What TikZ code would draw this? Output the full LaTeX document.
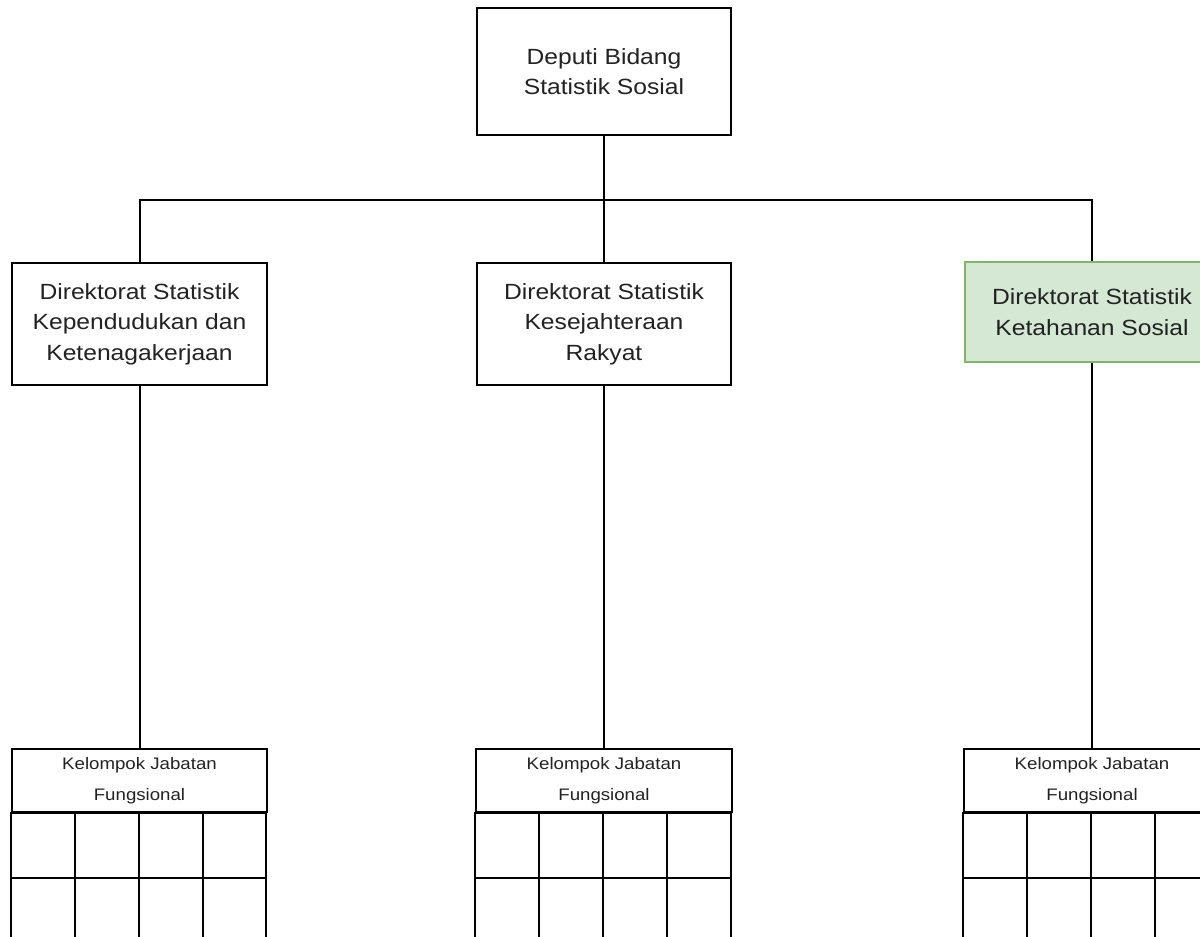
\documentclass[tikz,border=0pt]{standalone}
\usepackage{fontspec}
\newfontfamily\orgfont[FakeStretch=1.12]{Liberation Sans}
\usetikzlibrary{positioning}
\definecolor{hijau}{HTML}{D5E8D4}
\definecolor{hijaugaris}{HTML}{82B366}
\definecolor{teks}{HTML}{222222}

\begin{document}
\begin{tikzpicture}[x=0.75pt,y=-0.75pt,line width=1.5pt,
  kotak/.style={draw,align=center,minimum width=191pt,minimum height=91.5pt,
    inner sep=0pt,text=teks,font=\orgfont\fontsize{16.5}{23}\selectfont},
  hijaukotak/.style={kotak,fill=hijau,draw=hijaugaris,minimum height=75pt},
  kepala/.style={draw,align=center,minimum width=191.5pt,minimum height=47.25pt,
    inner sep=0pt,text=teks,font=\orgfont\fontsize{12.5}{23}\selectfont}]

\clip (0,0) rectangle (1200,937);

\node[kotak, minimum height=95.25pt] (D_0) at (604,71.5) {Deputi Bidang\\Statistik Sosial};
\node[kotak] (D_1) at (139.5,324) {Direktorat Statistik\\Kependudukan dan\\Ketenagakerjaan};
\node[kotak] (D_2) at (604,324) {Direktorat Statistik\\Kesejahteraan\\Rakyat};
\node[hijaukotak] (D_3) at (1092,312) {Direktorat Statistik\\Ketahanan Sosial};

\node[kepala] (K_1) at (139.5,780.5) {Kelompok Jabatan\\Fungsional};
\node[kepala] (K_2) at (604,780.5) {Kelompok Jabatan\\Fungsional};
\node[kepala] (K_3) at (1092,780.5) {Kelompok Jabatan\\Fungsional};

\coordinate (bus) at (604,200);

% sel kelompok jabatan
\foreach \k in {1,2,3}
  \foreach \i in {0,...,3}
    \foreach \j in {0,1}
      \draw[shift={(K_\k.south west)}] (\i*63.9,\j*65) rectangle ++(63.9,65);

\draw (D_0.south) -- (bus) -| (D_1.north);
\draw (bus) -| (D_3.north);
\draw (bus) -- (D_2.north);

\path
  (D_1) edge (K_1)
  (D_2) edge (K_2)
  (D_3) edge (K_3)
;
\end{tikzpicture}
\end{document}
